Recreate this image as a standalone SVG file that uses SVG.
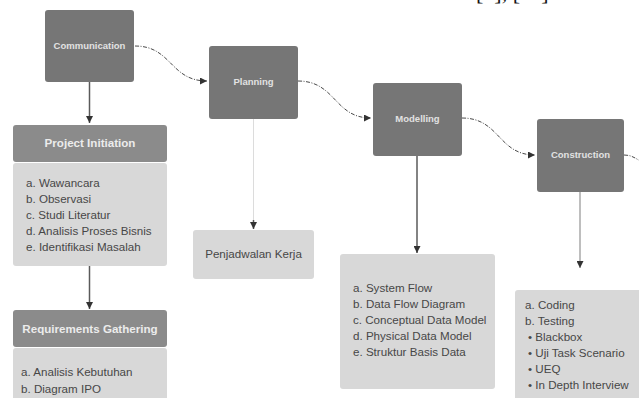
<svg xmlns="http://www.w3.org/2000/svg" width="639" height="398" viewBox="0 0 639 398">
<style>
.phase{fill:#767676;}
.phase-t{font-family:"Liberation Sans",Arial,sans-serif;font-weight:bold;font-size:9.5px;fill:#e2e2e2;text-anchor:middle;}
.head{fill:#8b8b8b;}
.head-t{font-family:"Liberation Sans",Arial,sans-serif;font-weight:bold;font-size:11.6px;fill:#ececec;text-anchor:middle;}
.body{fill:#d8d8d8;}
.item{font-family:"Liberation Sans",Arial,sans-serif;font-size:11.6px;fill:#474747;}
.flow{fill:none;stroke:#4a4a4a;stroke-width:1;stroke-dasharray:4 1.5 1 1.5;}
.down{fill:none;stroke:#5a5a5a;stroke-width:1.5;}
.faint{fill:none;stroke:#dcdcdc;stroke-width:1;}
.light{fill:none;stroke:#a8a8a8;stroke-width:1.5;}
.cite{font-family:"Liberation Serif","Times New Roman",serif;font-size:22px;fill:#111;}
</style>
<defs>
<marker id="ah" viewBox="0 0 10 10" refX="10" refY="5" markerWidth="7" markerHeight="7" markerUnits="userSpaceOnUse" orient="auto">
<path d="M0,0 L10,5 L0,10 z" fill="#333"/>
</marker>
</defs>

<text class="cite" x="476" y="0">[1], [11]</text>

<g id="connectors">
<path class="flow" d="M135,46 C172,46 170,81 207,81" marker-end="url(#ah)"/>
<path class="flow" d="M298,81 C336,81 334,118 371,118" marker-end="url(#ah)"/>
<path class="flow" d="M462,118 C500,118 498,155 535,155" marker-end="url(#ah)"/>
<path class="flow" d="M624,155 C630,155 634,157 640,161"/>
<path class="down" d="M89.5,82 V123" marker-end="url(#ah)"/>
<path class="down" d="M89.5,266 V309" marker-end="url(#ah)"/>
<path class="faint" d="M253.5,119 V222"/>
<path class="down" d="M253.5,220 V229" stroke-width="0" marker-end="url(#ah)"/>
<path class="down" d="M417,156 V253" marker-end="url(#ah)"/>
<path class="light" d="M580,192 V268" marker-end="url(#ah)"/>
</g>

<g id="communication">
<rect class="phase" x="45" y="10" width="89" height="72" rx="3"/>
<text class="phase-t" x="89.5" y="48.5">Communication</text>
</g>
<g id="planning">
<rect class="phase" x="209" y="46" width="89" height="73" rx="3"/>
<text class="phase-t" x="253.5" y="84.5">Planning</text>
</g>
<g id="modelling">
<rect class="phase" x="373" y="83" width="89" height="73" rx="3"/>
<text class="phase-t" x="417.5" y="121.5">Modelling</text>
</g>
<g id="construction">
<rect class="phase" x="537" y="119" width="87" height="73" rx="3"/>
<text class="phase-t" x="580.5" y="158">Construction</text>
</g>

<g id="project-initiation">
<rect class="head" x="13" y="125" width="154" height="37" rx="3"/>
<text class="head-t" x="90" y="146.5">Project Initiation</text>
<rect class="body" x="13" y="163" width="154" height="103" rx="3"/>
<text class="item" x="26" y="187">a. Wawancara</text>
<text class="item" x="26" y="203">b. Observasi</text>
<text class="item" x="26" y="219">c. Studi Literatur</text>
<text class="item" x="26" y="235">d. Analisis Proses Bisnis</text>
<text class="item" x="26" y="251">e. Identifikasi Masalah</text>
</g>

<g id="requirements-gathering">
<rect class="head" x="13" y="310" width="154" height="37" rx="3"/>
<text class="head-t" x="90" y="332.5">Requirements Gathering</text>
<rect class="body" x="13" y="348" width="154" height="60" rx="3"/>
<text class="item" x="21" y="376">a. Analisis Kebutuhan</text>
<text class="item" x="21" y="393">b. Diagram IPO</text>
</g>

<g id="penjadwalan">
<rect class="body" x="193" y="230" width="121" height="49" rx="3"/>
<text class="item" x="253.5" y="257.5" text-anchor="middle" font-size="12">Penjadwalan Kerja</text>
</g>

<g id="modelling-list">
<rect class="body" x="340" y="254" width="155" height="135" rx="3"/>
<text class="item" x="353" y="292">a. System Flow</text>
<text class="item" x="353" y="308">b. Data Flow Diagram</text>
<text class="item" x="353" y="324">c. Conceptual Data Model</text>
<text class="item" x="353" y="340">d. Physical Data Model</text>
<text class="item" x="353" y="356">e. Struktur Basis Data</text>
</g>

<g id="construction-list">
<rect class="body" x="515" y="290" width="140" height="120" rx="3"/>
<text class="item" x="525" y="309">a. Coding</text>
<text class="item" x="525" y="325">b. Testing</text>
<text class="item" x="528" y="341">• Blackbox</text>
<text class="item" x="528" y="357">• Uji Task Scenario</text>
<text class="item" x="528" y="373">• UEQ</text>
<text class="item" x="528" y="389">• In Depth Interview</text>
</g>
</svg>
